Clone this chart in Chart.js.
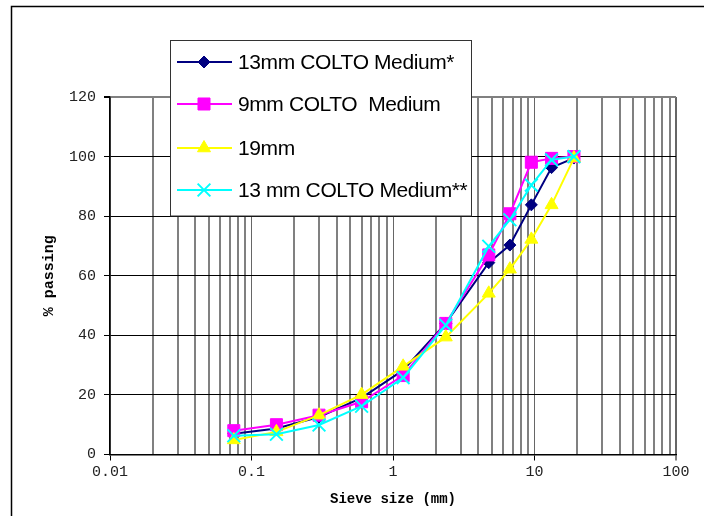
<!DOCTYPE html>
<html><head><meta charset="utf-8">
<script src="https://cdn.jsdelivr.net/npm/chart.js@4/dist/chart.umd.min.js"></script>
<style>html,body{margin:0;padding:0;background:#fff}#wrap{width:704px;height:516px;position:relative}</style>
</head><body><div id="wrap"><canvas id="c" width="704" height="516"></canvas></div>
<script>
const sieveSizes = [0.075, 0.15, 0.3, 0.6, 1.18, 2.36, 4.75, 6.7, 9.5, 13.2, 19];
const medium13a = [7, 8.7, 12.6, 19, 28.3, 44, 64.4, 70.3, 83.8, 96.3, 99.5];
const medium9 = [8, 10, 13.2, 17.7, 26.5, 44, 67, 80.8, 98.1, 99.4, 100];
const mm19 = [4.9, 7.6, 13.2, 20.1, 29.6, 39.4, 54.1, 62.2, 72.2, 83.8, 99.5];
const medium13b = [6.3, 6.8, 9.9, 16.2, 25.8, 43.4, 69.9, 78.8, 90.4, 98.9, 100];
const seriesLabels = ['13mm COLTO Medium*', '9mm COLTO  Medium', '19mm', '13 mm COLTO Medium**'];
const yTickValues = [0, 20, 40, 60, 80, 100, 120];
const xTickLabels = ['0.01', '0.1', '1', '10', '100'];

const toPts = arr => sieveSizes.map((s, i) => ({x: s, y: arr[i]}));
const styles = [
  {c:'#000080', ps:'rectRot', r:6},
  {c:'#FF00FF', ps:'rect', r:8.5},
  {c:'#FFFF00', ps:'triangle', r:7.5},
  {c:'#00FFFF', ps:'crossRot', r:9}
];
const allData = [medium13a, medium9, mm19, medium13b];
const datasets = allData.map((d, i) => ({
  label: seriesLabels[i],
  data: toPts(d),
  borderColor: styles[i].c,
  backgroundColor: styles[i].c,
  borderWidth: 2,
  pointStyle: styles[i].ps,
  pointRadius: styles[i].r,
  pointHoverRadius: styles[i].r,
  pointBorderWidth: styles[i].ps === 'crossRot' ? 2 : 1,
  tension: 0,
  order: 4 - i
}));

const xTicks = [];
for (let e = -2; e <= 2; e++) {
  for (let m = 1; m <= 9; m++) {
    const v = m * Math.pow(10, e);
    if (v > 100.0001) break;
    xTicks.push(parseFloat(v.toPrecision(3)));
  }
}
const isDecade = v => Math.abs(Math.log10(v) - Math.round(Math.log10(v))) < 1e-6;

const legendPlugin = {
  id: 'boxLegend',
  afterDraw(chart) {
    const ctx = chart.ctx;
    ctx.save();
    ctx.strokeStyle = '#000';
    ctx.lineWidth = 1.5;
    ctx.strokeRect(11.5, 6.5, 900, 900);
    const bx = 170.5, by = 40.5, bw = 301, bh = 175.5;
    ctx.fillStyle = '#fff';
    ctx.fillRect(bx, by, bw, bh);
    ctx.strokeStyle = '#333';
    ctx.lineWidth = 1;
    ctx.strokeRect(bx, by, bw, bh);
    const ys = [62, 104, 148, 190];
    chart.data.datasets.forEach((ds, i) => {
      const y = ys[i];
      ctx.strokeStyle = ds.borderColor;
      ctx.lineWidth = 2;
      ctx.beginPath(); ctx.moveTo(177, y); ctx.lineTo(232, y); ctx.stroke();
      ctx.fillStyle = ds.backgroundColor;
      ctx.strokeStyle = ds.borderColor;
      ctx.lineWidth = ds.pointBorderWidth;
      Chart.helpers.drawPoint(ctx, {pointStyle: ds.pointStyle, radius: ds.pointRadius, rotation: 0, borderWidth: ds.pointBorderWidth}, 204, y);
      ctx.fillStyle = '#000';
      ctx.font = '21px "Liberation Sans", Arial, sans-serif';
      try { ctx.letterSpacing = '-0.4px'; } catch (e) {}
      ctx.textBaseline = 'middle';
      ctx.textAlign = 'left';
      ctx.fillText(ds.label, 238, y + 1);
      try { ctx.letterSpacing = '0px'; } catch (e) {}
    });
    ctx.restore();
  }
};

new Chart(document.getElementById('c'), {
  type: 'line',
  data: { datasets },
  options: {
    responsive: false,
    animation: false,
    devicePixelRatio: 1,
    layout: { padding: { top: 97, right: 28, left: 0, bottom: 0 } },
    plugins: { legend: { display: false }, tooltip: { enabled: false } },
    scales: {
      x: {
        type: 'logarithmic',
        min: 0.01, max: 100,
        afterBuildTicks: s => { s.ticks = xTicks.map(v => ({value: v, major: isDecade(v)})); },
        afterFit: s => { s.height = 61.5; },
        ticks: {
          autoSkip: false, maxRotation: 0, padding: 3,
          color: '#222',
          font: { family: '"Liberation Mono", "Courier New", monospace', size: 15 },
          callback: (v) => {
            if (!isDecade(v)) return '';
            return xTickLabels[Math.round(Math.log10(v)) + 2];
          }
        },
        grid: {
          color: ctx => isDecade(ctx.tick.value) ? '#666' : '#808080',
          lineWidth: ctx => (ctx.tick.value === 100) ? 2 : (isDecade(ctx.tick.value) ? 1 : 2),
          tickColor: ctx => isDecade(ctx.tick.value) ? '#000' : 'rgba(0,0,0,0)',
          tickLength: 6,
          tickWidth: 1
        },
        border: { color: '#000', width: 1.5 },
        title: {
          display: true, text: 'Sieve size (mm)', color: '#000',
          font: { family: '"Liberation Mono", "Courier New", monospace', size: 14, weight: 'bold' },
          padding: { top: 0, bottom: 8 }
        }
      },
      y: {
        min: 0, max: 120,
        afterBuildTicks: s => { s.ticks = yTickValues.map(v => ({value: v})); },
        afterFit: s => { s.width = 110; },
        ticks: {
          padding: 8, color: '#222',
          font: { family: '"Liberation Mono", "Courier New", monospace', size: 15 }
        },
        grid: {
          color: ctx => ctx.tick.value === 120 ? '#808080' : '#000',
          lineWidth: ctx => ctx.tick.value === 120 ? 2 : 1,
          tickColor: '#000',
          tickLength: 6
        },
        border: { color: '#000', width: 1.5 },
        title: {
          display: true, text: '% passing', color: '#000',
          font: { family: '"Liberation Mono", "Courier New", monospace', size: 15, weight: 'bold' },
          padding: { top: 40, bottom: 0 }
        }
      }
    }
  },
  plugins: [legendPlugin]
});
</script></body></html>
